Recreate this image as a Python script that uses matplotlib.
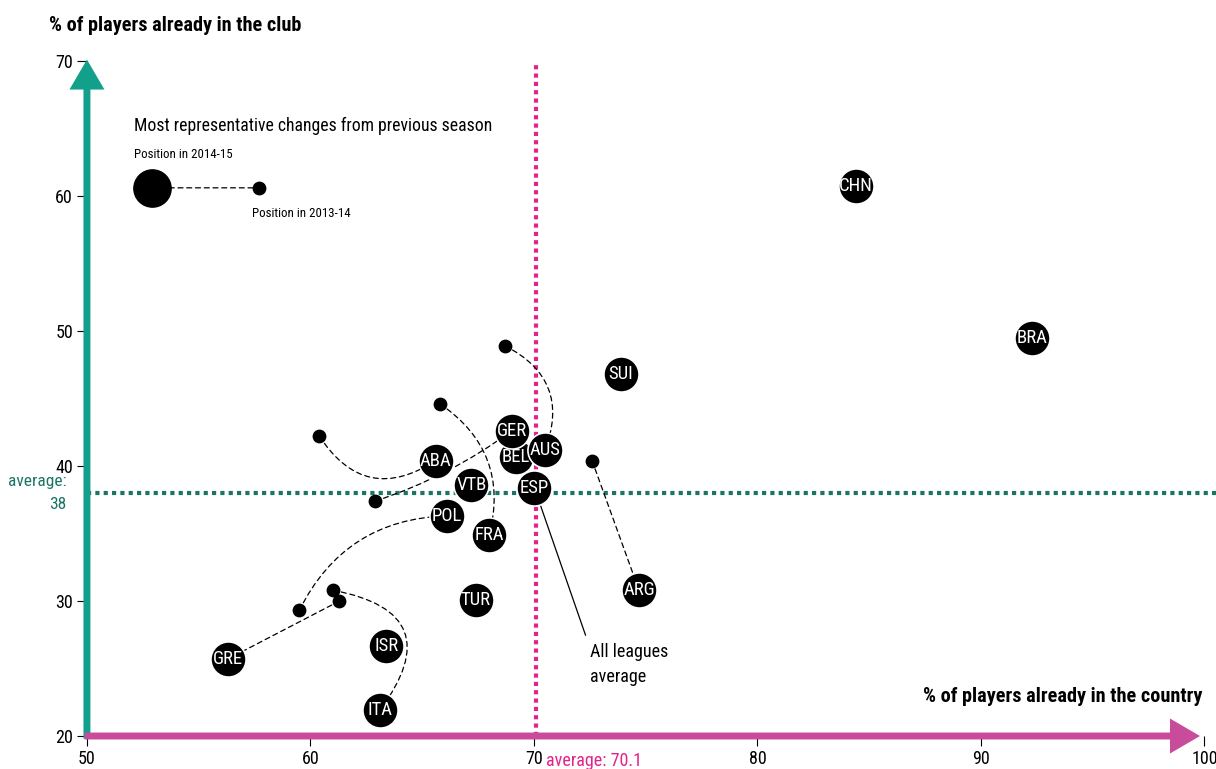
"""
Leagues: share of players already in the country vs already in the club.
"""
import matplotlib.pyplot as plt
from matplotlib.transforms import blended_transform_factory

plt.rcParams['font.family'] = ['Roboto Condensed', 'Barlow Semi Condensed', 'DejaVu Sans']

# position in 2014-15 (drawing order matters for overlaps)
leagues = ['CHN', 'BRA', 'SUI', 'BEL', 'GER', 'AUS', 'ABA', 'VTB', 'ESP',
           'POL', 'FRA', 'ARG', 'TUR', 'ISR', 'GRE', 'ITA']
pct_country = [84.4, 92.3, 73.9, 69.2, 69.0, 70.5, 65.6, 67.2, 70.0,
               66.1, 68.0, 74.7, 67.4, 63.4, 56.3, 63.1]
pct_club = [60.7, 49.5, 46.8, 40.7, 42.6, 41.2, 40.4, 38.6, 38.4,
            36.3, 34.9, 30.8, 30.1, 26.7, 25.7, 21.9]

# position in 2013-14 for the most representative changes
changed = ['AUS', 'FRA', 'ABA', 'GER', 'ARG', 'POL', 'GRE', 'ITA']
prev_country = [68.7, 65.8, 60.4, 62.9, 72.6, 59.5, 61.3, 61.0]
prev_club = [48.9, 44.6, 42.2, 37.4, 40.4, 29.3, 30.0, 30.8]
curve_rad = [-0.45, -0.35, 0.5, 0.08, 0.0, -0.3, 0.0, -0.8]

avg_country = 70.1
avg_club = 38

x_ticks = [50, 60, 70, 80, 90, 100]
y_ticks = [20, 30, 40, 50, 60, 70]

TEAL = '#12a08b'
TEAL_DARK = '#1b7567'
MAGENTA = '#c94c9c'
PINK = '#e2238b'

fig = plt.figure(figsize=(12.16, 7.69), dpi=100)
ax = fig.add_axes([0.0715, 0.0429, 0.9190, 0.8779])
ax.set_xlim(50, 100)
ax.set_ylim(20, 70)
for s in ax.spines.values():
    s.set_visible(False)
ax.set_xticks(x_ticks)
ax.set_yticks(y_ticks)
ax.tick_params(axis='both', length=7, width=0.8, labelsize=13, pad=3)

# average lines
ax.axvline(avg_country, color=PINK, lw=3, ls=(0, (1, 1)), zorder=1)
ax.axhline(avg_club, xmin=0, xmax=1.01, color=TEAL_DARK, lw=3,
           ls=(0, (1, 1)), zorder=1, clip_on=False)

# axis arrows
arrow_style = 'simple,head_length=1.08,head_width=1.26,tail_width=0.25'
ax.annotate('', xy=(50, 70.1), xytext=(50, 19.8),
            arrowprops=dict(arrowstyle=arrow_style, lw=0, color=TEAL,
                            shrinkA=0, shrinkB=0, mutation_scale=20),
            zorder=3, annotation_clip=False)
ax.annotate('', xy=(99.8, 20), xytext=(49.9, 20),
            arrowprops=dict(arrowstyle=arrow_style, lw=0, color=MAGENTA,
                            shrinkA=0, shrinkB=0, mutation_scale=20),
            zorder=3, annotation_clip=False)

# change connectors
for name, px, py, rad in zip(changed, prev_country, prev_club, curve_rad):
    i = leagues.index(name)
    ax.annotate('', xy=(pct_country[i], pct_club[i]), xytext=(px, py),
                arrowprops=dict(arrowstyle='-', ls=(0, (4, 3)), lw=0.9,
                                color='black', shrinkA=0, shrinkB=0,
                                connectionstyle=f'arc3,rad={rad}'),
                zorder=2)
ax.scatter(prev_country, prev_club, s=80, color='black', zorder=2.5)

# all leagues average pointer
ax.annotate('All leagues\naverage', xy=(avg_country, avg_club),
            xytext=(72.5, 25.3), ha='left', va='center', fontsize=13,
            linespacing=1.45,
            arrowprops=dict(arrowstyle='-', lw=0.9, color='black',
                            shrinkA=4, shrinkB=0, relpos=(0, 0.9)),
            zorder=2)

# league circles
for k, (name, x, y) in enumerate(zip(leagues, pct_country, pct_club)):
    ax.scatter([x], [y], s=640, color='black', edgecolor='white',
               linewidth=1.2, zorder=5 + k * 0.1)
    ax.text(x, y, name, color='white', ha='center', va='center',
            fontsize=13.5, zorder=5.05 + k * 0.1)

# legend
ax.text(52.1, 65.2, 'Most representative changes from previous season',
        fontsize=12.7, ha='left', va='center')
ax.text(52.1, 63.1, 'Position in 2014-15', fontsize=9.3, ha='left', va='center')
ax.text(57.4, 58.7, 'Position in 2013-14', fontsize=9.3, ha='left', va='center')
ax.annotate('', xy=(57.7, 60.6), xytext=(52.9, 60.6),
            arrowprops=dict(arrowstyle='-', ls=(0, (4, 3)), lw=0.9,
                            color='black', shrinkA=0, shrinkB=0))
ax.scatter([52.9], [60.6], s=720, color='black', zorder=4)
ax.scatter([57.7], [60.6], s=80, color='black', zorder=4)

# axis titles
fig.text(0.040, 0.967, '% of players already in the club', fontsize=14.6,
         fontweight='bold', ha='left', va='center')
ax.text(99.9, 22.9, '% of players already in the country', fontsize=14.6,
        fontweight='bold', ha='right', va='center')

# average labels
ax.text(-0.018, avg_club, 'average:\n38', color=TEAL_DARK, fontsize=12.5,
        ha='right', va='center', linespacing=1.6,
        transform=blended_transform_factory(ax.transAxes, ax.transData))
ax.text(70.55, -0.037, 'average: 70.1', color=PINK, fontsize=13,
        ha='left', va='center',
        transform=blended_transform_factory(ax.transData, ax.transAxes))

fig.savefig('out.png', dpi=100)
